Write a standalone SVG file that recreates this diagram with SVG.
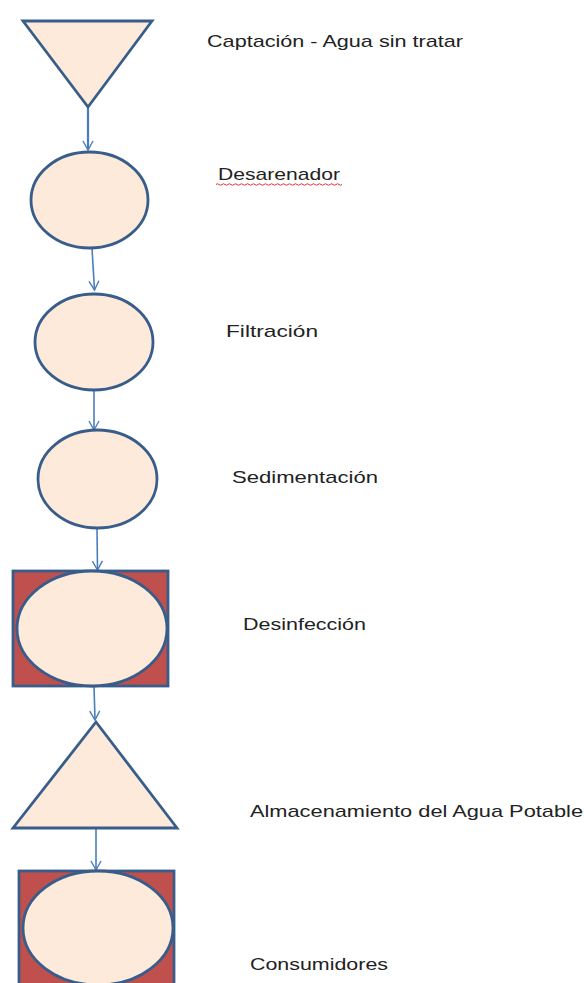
<svg xmlns="http://www.w3.org/2000/svg" width="584" height="983" viewBox="0 0 584 983">
<defs>
<style>
.shape{fill:#FDEADA;stroke:#385D8A;stroke-width:2.8;stroke-linejoin:miter}
.box{fill:#C0504D;stroke:#385D8A;stroke-width:2.8}
.conn{stroke:#4A7EBB;stroke-width:1.6;fill:none;marker-end:url(#arr)}
.lbl{font-family:"Liberation Sans","Open Sans",sans-serif;font-size:17px;fill:#222222}
</style>
<marker id="arr" viewBox="0 0 12 12" refX="10" refY="6" markerWidth="12" markerHeight="12" markerUnits="userSpaceOnUse" orient="auto">
<path d="M1,1 L10,6 L1,11" fill="none" stroke="#4A7EBB" stroke-width="1.4"/>
</marker>
</defs>
<rect width="584" height="983" fill="#FFFFFF"/>
<g id="connectors">
<line class="conn" x1="88" y1="108" x2="88" y2="150" style="stroke-width:2.2"/>
<line class="conn" x1="92" y1="248" x2="94.5" y2="290"/>
<line class="conn" x1="94" y1="390" x2="94" y2="430"/>
<line class="conn" x1="97" y1="528" x2="97.5" y2="570"/>
<line class="conn" x1="94" y1="686" x2="95" y2="720"/>
<line class="conn" x1="96" y1="828" x2="96" y2="870"/>
</g>
<g id="captacion">
<polygon class="shape" points="23,21 152,21 88,107"/>
<text class="lbl" x="207" y="47" textLength="256" lengthAdjust="spacingAndGlyphs">Captación - Agua sin tratar</text>
</g>
<g id="desarenador">
<ellipse class="shape" cx="89.5" cy="200" rx="58.5" ry="48"/>
<text class="lbl" x="218" y="180" textLength="122" lengthAdjust="spacingAndGlyphs">Desarenador</text>
<path d="M216,184.5 q1.5,-1.5 3,0 t3,0 t3,0 t3,0 t3,0 t3,0 t3,0 t3,0 t3,0 t3,0 t3,0 t3,0 t3,0 t3,0 t3,0 t3,0 t3,0 t3,0 t3,0 t3,0 t3,0 t3,0 t3,0 t3,0 t3,0 t3,0 t3,0 t3,0 t3,0 t3,0 t3,0 t3,0 t3,0 t3,0 t3,0 t3,0 t3,0 t3,0 t3,0 t3,0 t3,0 t3,0" fill="none" stroke="#E0303A" stroke-width="1"/>
</g>
<g id="filtracion">
<ellipse class="shape" cx="94" cy="342" rx="59" ry="48"/>
<text class="lbl" x="226" y="337" textLength="92" lengthAdjust="spacingAndGlyphs">Filtración</text>
</g>
<g id="sedimentacion">
<ellipse class="shape" cx="97.5" cy="479" rx="59.5" ry="49"/>
<text class="lbl" x="232" y="483" textLength="146" lengthAdjust="spacingAndGlyphs">Sedimentación</text>
</g>
<g id="desinfeccion">
<rect class="box" x="13" y="571" width="155" height="115"/>
<ellipse class="shape" cx="92" cy="628.5" rx="75" ry="57.5"/>
<text class="lbl" x="243" y="630" textLength="123" lengthAdjust="spacingAndGlyphs">Desinfección</text>
</g>
<g id="almacenamiento">
<polygon class="shape" points="96,722 177,828 13,828"/>
<text class="lbl" x="250" y="817" textLength="333" lengthAdjust="spacingAndGlyphs">Almacenamiento del Agua Potable</text>
</g>
<g id="consumidores">
<rect class="box" x="19" y="871" width="155" height="130"/>
<ellipse class="shape" cx="98" cy="928" rx="75" ry="57"/>
<text class="lbl" x="250" y="970" textLength="138" lengthAdjust="spacingAndGlyphs">Consumidores</text>
</g>
</svg>
